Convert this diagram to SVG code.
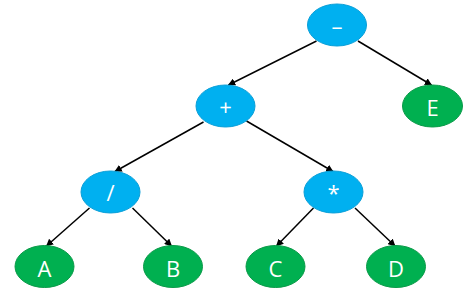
<svg xmlns="http://www.w3.org/2000/svg" width="466" height="294" viewBox="0 0 466 294">
<style>
.op{fill:#00B0F0;stroke:#0a9fd8;stroke-width:1}
.leaf{fill:#00B050;stroke:#0a9a48;stroke-width:1}
.t{fill:#fff;font-family:"Open Sans","Liberation Sans",sans-serif;font-size:22px;text-anchor:middle;dominant-baseline:central}
.e{stroke:#000;stroke-width:1.5;fill:none;marker-end:url(#ah)}
</style>
<defs>
<marker id="ah" viewBox="0 0 10 10" refX="9" refY="5" markerWidth="5" markerHeight="5" orient="auto" markerUnits="strokeWidth">
<path d="M0,0 L10,5 L0,10 z" fill="#000"/>
</marker>
</defs>
<rect width="466" height="294" fill="#fff"/>
<g id="connectors">
<line class="e" x1="316.5" y1="41" x2="228.5" y2="85"/>
<line class="e" x1="358" y1="41" x2="431.5" y2="85"/>
<line class="e" x1="203.5" y1="122" x2="115" y2="171.5"/>
<line class="e" x1="246.5" y1="121" x2="333" y2="171.5"/>
<line class="e" x1="89.5" y1="208" x2="46.5" y2="246"/>
<line class="e" x1="132.5" y1="208" x2="171.5" y2="246"/>
<line class="e" x1="313.5" y1="208" x2="276.5" y2="246"/>
<line class="e" x1="355" y1="208" x2="395" y2="246"/>
</g>
<g id="n-minus"><ellipse class="op" cx="337" cy="25" rx="29.5" ry="21"/><text class="t" x="337" y="25">–</text></g>
<g id="n-plus"><ellipse class="op" cx="225.5" cy="106" rx="29.5" ry="21"/><text class="t" x="225.5" y="106">+</text></g>
<g id="n-E"><ellipse class="leaf" cx="432.5" cy="106" rx="30" ry="21"/><text class="t" x="432.5" y="107">E</text></g>
<g id="n-div"><ellipse class="op" cx="110.5" cy="192" rx="29.5" ry="21"/><text class="t" x="110.5" y="192">/</text></g>
<g id="n-mul"><ellipse class="op" cx="333.5" cy="192" rx="29.5" ry="21"/><text class="t" x="333.5" y="192">*</text></g>
<g id="n-A"><ellipse class="leaf" cx="44.5" cy="266.5" rx="29.5" ry="21"/><text class="t" x="44.5" y="268">A</text></g>
<g id="n-B"><ellipse class="leaf" cx="173" cy="266.5" rx="29.5" ry="21"/><text class="t" x="173" y="268">B</text></g>
<g id="n-C"><ellipse class="leaf" cx="275.5" cy="266.5" rx="29.5" ry="21"/><text class="t" x="275.5" y="268">C</text></g>
<g id="n-D"><ellipse class="leaf" cx="396" cy="266.5" rx="29.5" ry="21"/><text class="t" x="396" y="268">D</text></g>
</svg>
